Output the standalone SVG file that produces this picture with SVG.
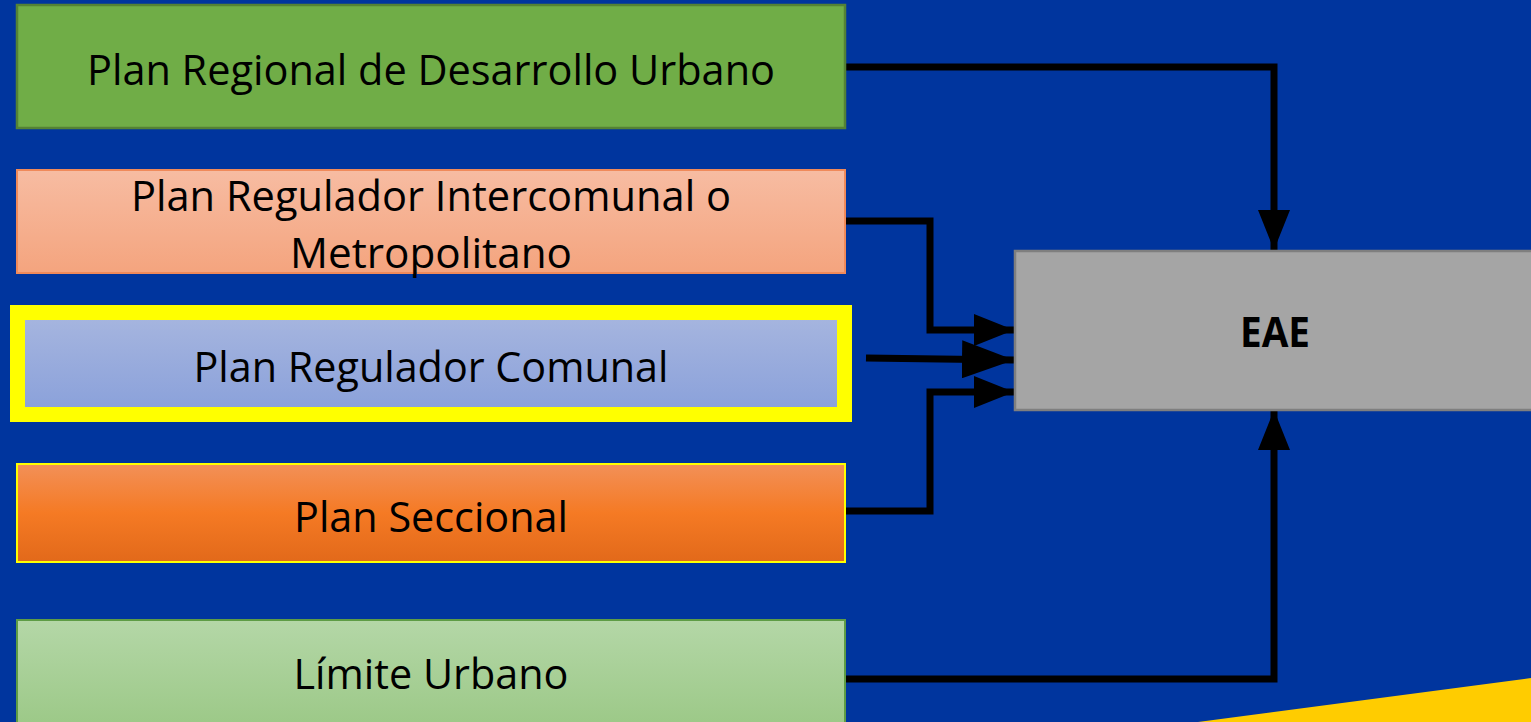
<svg xmlns="http://www.w3.org/2000/svg" width="1531" height="722" viewBox="0 0 1531 722">
  <style>
    .lbl { font-family: "Open Sans", "Liberation Sans", sans-serif; font-size: 42px; fill: #000; text-anchor: middle; }
    .bold { font-weight: bold; }
    .conn { fill: none; stroke: #000; stroke-width: 7; stroke-linejoin: miter; }
  </style>
  <defs>
    <linearGradient id="gPink" x1="0" y1="0" x2="0" y2="1">
      <stop offset="0" stop-color="#F7BCA2"/>
      <stop offset="1" stop-color="#F4A47E"/>
    </linearGradient>
    <linearGradient id="gBlue" x1="0" y1="0" x2="0" y2="1">
      <stop offset="0" stop-color="#A7B6DF"/>
      <stop offset="1" stop-color="#89A0DA"/>
    </linearGradient>
    <linearGradient id="gOrange" x1="0" y1="0" x2="0" y2="1">
      <stop offset="0" stop-color="#F29058"/>
      <stop offset="0.5" stop-color="#F57A24"/>
      <stop offset="1" stop-color="#E2691A"/>
    </linearGradient>
    <linearGradient id="gLight" x1="0" y1="0" x2="0" y2="1">
      <stop offset="0" stop-color="#B4D7A7"/>
      <stop offset="1" stop-color="#9BC886"/>
    </linearGradient>
    <marker id="ah" markerUnits="userSpaceOnUse" markerWidth="42" markerHeight="32" refX="40" refY="16" orient="auto">
      <polygon points="0,0 40,16 0,32" fill="#000"/>
    </marker>
    <marker id="ahBig" markerUnits="userSpaceOnUse" markerWidth="54" markerHeight="38" refX="52" refY="19" orient="auto">
      <polygon points="0,0 52,19 0,38" fill="#000"/>
    </marker>
  </defs>

  <rect x="0" y="0" width="1531" height="722" fill="#00359E"/>
  <polygon points="1198,722 1531,678 1531,722" fill="#FFCC00"/>

  <g id="connectors">
    <polyline class="conn" points="845,67 1274,67 1274,250" marker-end="url(#ah)"/>
    <polyline class="conn" points="845,221 930,221 930,330 1014,330" marker-end="url(#ah)"/>
    <line class="conn" x1="866" y1="358" x2="1014" y2="360" marker-end="url(#ahBig)"/>
    <polyline class="conn" points="845,511 930,511 930,392 1014,392" marker-end="url(#ah)"/>
    <polyline class="conn" points="845,679 1274,679 1274,410" marker-end="url(#ah)"/>
  </g>

  <g id="node-prdu">
    <rect x="17" y="5" width="828" height="123" fill="#70AD47" stroke="#548235" stroke-width="2.5"/>
    <text class="lbl" x="431" y="85" textLength="688" lengthAdjust="spacingAndGlyphs">Plan Regional de Desarrollo Urbano</text>
  </g>

  <g id="node-pri">
    <rect x="17" y="170" width="828" height="103" fill="url(#gPink)" stroke="#F08A5A" stroke-width="2"/>
    <text class="lbl" x="431" y="211" textLength="600" lengthAdjust="spacingAndGlyphs">Plan Regulador Intercomunal o</text>
    <text class="lbl" x="431" y="268" textLength="282" lengthAdjust="spacingAndGlyphs">Metropolitano</text>
  </g>

  <g id="node-prc">
    <rect x="17.5" y="312.5" width="827" height="102" fill="url(#gBlue)" stroke="#FFFF00" stroke-width="15"/>
    <text class="lbl" x="431" y="382" textLength="475" lengthAdjust="spacingAndGlyphs">Plan Regulador Comunal</text>
  </g>

  <g id="node-ps">
    <rect x="17" y="464" width="828" height="98" fill="url(#gOrange)" stroke="#FFFF00" stroke-width="2"/>
    <text class="lbl" x="431" y="532" textLength="274" lengthAdjust="spacingAndGlyphs">Plan Seccional</text>
  </g>

  <g id="node-lu">
    <rect x="17" y="620" width="828" height="110" fill="url(#gLight)" stroke="#5E9C45" stroke-width="2"/>
    <text class="lbl" x="431" y="689" textLength="275" lengthAdjust="spacingAndGlyphs">Límite Urbano</text>
  </g>

  <g id="node-eae">
    <rect x="1015" y="251" width="530" height="159" fill="#A5A5A5" stroke="#7F7F7F" stroke-width="2.5"/>
    <text class="lbl bold" x="1275" y="347" textLength="70" lengthAdjust="spacingAndGlyphs">EAE</text>
  </g>
</svg>
